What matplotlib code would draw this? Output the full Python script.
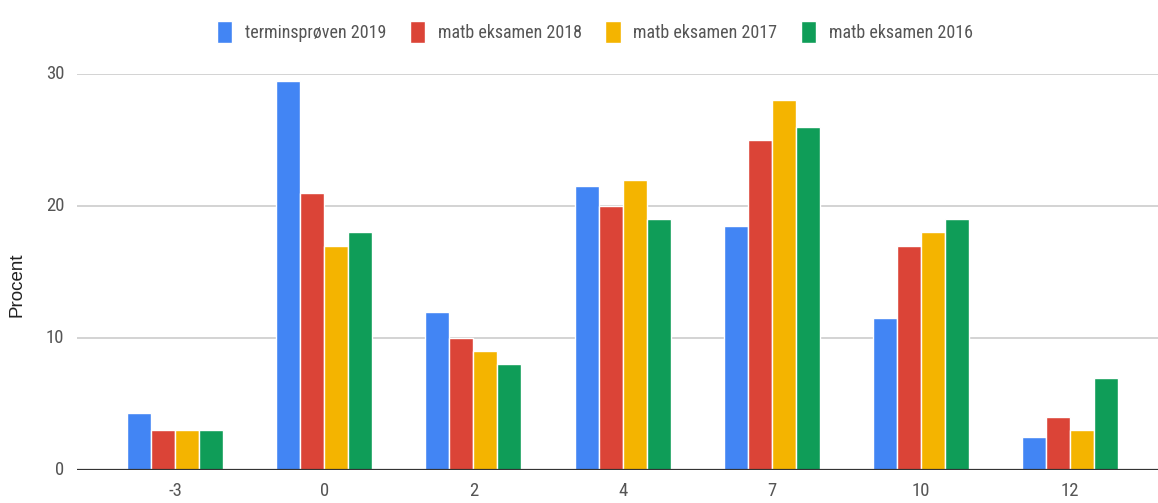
import matplotlib

matplotlib.use("Agg")
import matplotlib.pyplot as plt
import numpy as np
from matplotlib.font_manager import findfont, FontProperties

# grades on the Danish 7-point scale
categories = ["-3", "0", "2", "4", "7", "10", "12"]
series_names = [
    "terminsprøven 2019",
    "matb eksamen 2018",
    "matb eksamen 2017",
    "matb eksamen 2016",
]
termin_2019 = [4.3, 29.5, 12.0, 21.5, 18.5, 11.5, 2.5]
eksamen_2018 = [3.0, 21.0, 10.0, 20.0, 25.0, 17.0, 4.0]
eksamen_2017 = [3.0, 17.0, 9.0, 22.0, 28.0, 18.0, 3.0]
eksamen_2016 = [3.0, 18.0, 8.0, 19.0, 26.0, 19.0, 7.0]
yticks = [0, 10, 20, 30]

colors = ["#4285f4", "#db4437", "#f4b400", "#0f9d58"]


def have(name):
    try:
        findfont(FontProperties(family=name), fallback_to_default=False)
        return True
    except ValueError:
        return False


# google sheets uses a condensed face; use one if present, else plain Roboto a bit smaller
condensed = [f for f in ("Roboto Condensed", "Liberation Sans Narrow",
                         "DejaVu Sans Condensed") if have(f)]
if condensed:
    fam = [condensed[0], "DejaVu Sans"]
    tick_fs, leg_fs = 13.5, 13
else:
    fam = ["Roboto", "DejaVu Sans"]
    tick_fs, leg_fs = 12.5, 10
plt.rcParams["font.family"] = fam

W, H = 1158, 503
fig = plt.figure(figsize=(W / 100, H / 100), dpi=100)
# plot area in pixels: x 77..1158, y 74..470
ax = fig.add_axes([77 / W, (H - 470) / H, (W - 77) / W, (470 - 74) / H])

x = np.arange(len(categories))
bw = 24 / 149
all_series = [termin_2019, eksamen_2018, eksamen_2017, eksamen_2016]
for i, (vals, name, c) in enumerate(zip(all_series, series_names, colors)):
    ax.bar(x + (i - 1.5) * bw, vals, width=bw, color=c, edgecolor="white",
           linewidth=1.0, label=name, zorder=3)

ax.set_xlim(-0.658, 6.59)
ax.set_ylim(0, 30)
ax.set_yticks(yticks)
ax.set_xticks(x)
ax.set_xticklabels(categories)
ax.grid(axis="y", color="#cccccc", lw=1.2, zorder=0)
ax.axhline(0, color="#333333", lw=1.6, zorder=4)
for s in ax.spines.values():
    s.set_visible(False)
ax.tick_params(length=0, labelsize=tick_fs, colors="#555555")
ax.tick_params(axis="y", pad=9)
ax.tick_params(axis="x", pad=9)
for lab in ax.get_yticklabels():
    lab.set_verticalalignment("center")

fig.text(17 / W, 1 - 285 / H, "Procent", rotation=90, ha="center",
         va="center", fontsize=13.5, color="#222222",
         family=["Liberation Sans", "DejaVu Sans"])

leg = fig.legend(loc="upper center", bbox_to_anchor=(595 / W, 1 - 5 / H),
                 ncol=4, frameon=False, fontsize=leg_fs, handlelength=0.85,
                 handleheight=1.5, handletextpad=0.7, columnspacing=1.3)
for t in leg.get_texts():
    t.set_color("#555555")

fig.savefig("out.png", dpi=100)
